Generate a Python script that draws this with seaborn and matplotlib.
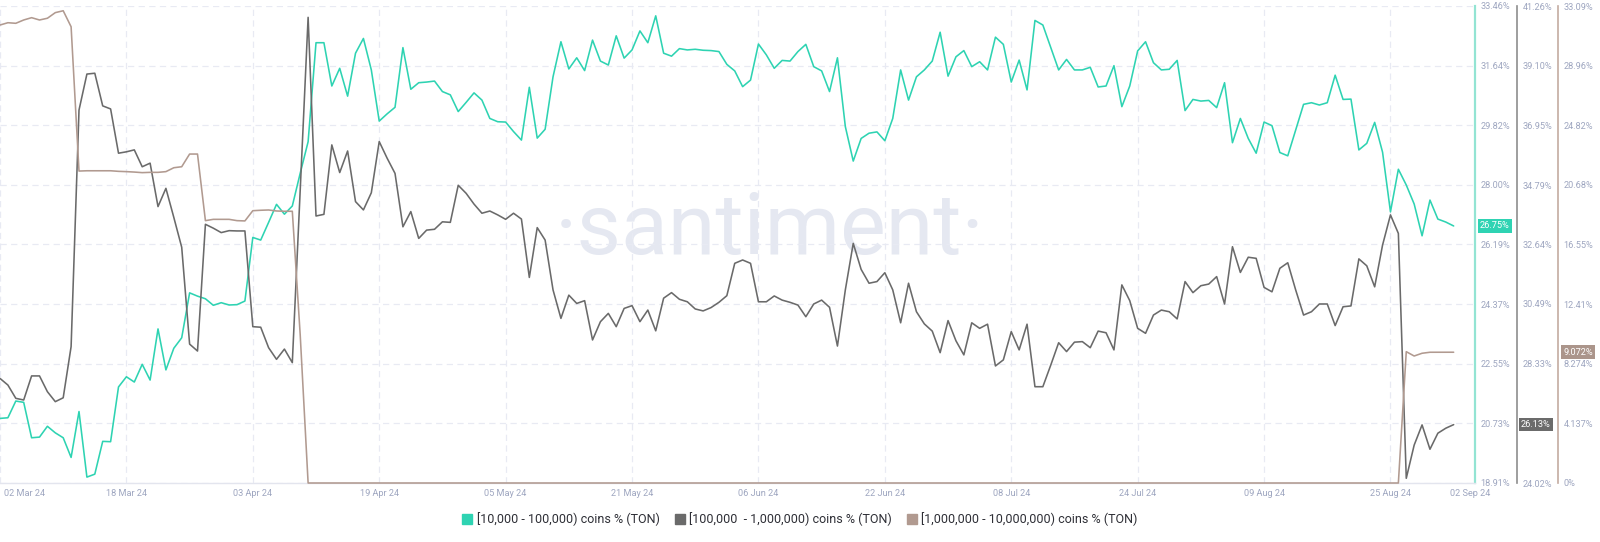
import numpy as np
import pandas as pd
import matplotlib
matplotlib.use("Agg")
import matplotlib.pyplot as plt
import matplotlib.transforms as mtransforms
from matplotlib.lines import Line2D
import seaborn as sns

# ---------------- data ----------------
start_date = "2024-03-02"

teal_values = [
    20.88, 20.90, 21.41, 21.37, 20.29, 20.31, 20.64, 20.44, 20.29, 19.69,
    21.09, 19.09, 19.18, 20.18, 20.17, 21.84, 22.15, 21.99, 22.53, 22.05,
    23.61, 22.36, 23.02, 23.34, 24.71, 24.61, 24.53, 24.33, 24.41, 24.34,
    24.35, 24.46, 26.40, 26.32, 26.86, 27.41, 27.11, 27.36, 28.36, 29.32,
    32.34, 32.34, 31.02, 31.56, 30.71, 32.02, 32.47, 31.51, 29.95, 30.17,
    30.37, 32.19, 30.92, 31.12, 31.14, 31.17, 30.85, 30.75, 30.24, 30.52,
    30.81, 30.59, 30.03, 29.93, 29.92, 29.63, 29.37, 30.98, 29.43, 29.70,
    31.30, 32.37, 31.54, 31.88, 31.49, 32.42, 31.78, 31.66, 32.55, 31.87,
    32.12, 32.70, 32.34, 33.16, 32.02, 31.93, 32.16, 32.12, 32.14, 32.11,
    32.10, 32.07, 31.68, 31.48, 31.00, 31.20, 32.30, 31.97, 31.56, 31.80,
    31.78, 32.07, 32.29, 31.61, 31.48, 30.85, 31.88, 29.78, 28.73, 29.42,
    29.58, 29.62, 29.35, 30.03, 31.51, 30.59, 31.30, 31.51, 31.78, 32.66,
    31.32, 31.91, 32.10, 31.61, 31.76, 31.51, 32.51, 32.29, 31.14, 31.81,
    30.90, 33.02, 32.88, 32.20, 31.51, 31.83, 31.51, 31.51, 31.59, 30.99,
    31.02, 31.64, 30.39, 31.02, 32.09, 32.37, 31.73, 31.51, 31.53, 31.80,
    30.27, 30.61, 30.56, 30.58, 30.36, 31.12, 29.29, 30.03, 29.42, 28.97,
    29.92, 29.81, 28.99, 28.89, 29.68, 30.46, 30.51, 30.44, 30.51, 31.35,
    30.61, 30.62, 29.07, 29.27, 29.91, 29.00, 27.18, 28.48, 28.00, 27.42,
    26.45, 27.54, 26.96, 26.87, 26.75,
]

gray_values = [
    27.80, 27.56, 27.08, 27.02, 27.89, 27.89, 27.32, 26.96, 27.10, 28.95,
    37.50, 38.80, 38.83, 37.65, 37.54, 35.94, 35.99, 36.06, 35.45, 35.58,
    34.01, 34.67, 33.62, 32.54, 29.04, 28.79, 33.37, 33.23, 33.07, 33.14,
    33.13, 33.13, 29.67, 29.65, 28.91, 28.49, 28.86, 28.37, 34.61, 40.85,
    33.67, 33.73, 36.24, 35.24, 36.02, 34.19, 33.89, 34.51, 36.36, 35.76,
    35.21, 33.28, 33.83, 32.86, 33.16, 33.19, 33.46, 33.44, 34.78, 34.49,
    34.10, 33.77, 33.85, 33.71, 33.55, 33.77, 33.56, 31.45, 33.25, 32.80,
    31.00, 29.97, 30.81, 30.51, 30.61, 29.19, 29.85, 30.15, 29.67, 30.33,
    30.43, 29.85, 30.27, 29.52, 30.70, 30.90, 30.66, 30.57, 30.31, 30.24,
    30.36, 30.55, 30.79, 31.96, 32.08, 31.96, 30.57, 30.57, 30.78, 30.63,
    30.55, 30.45, 30.03, 30.49, 30.63, 30.37, 28.97, 31.00, 32.68, 31.74,
    31.24, 31.30, 31.62, 31.00, 29.81, 31.24, 30.21, 29.77, 29.51, 28.73,
    29.89, 29.16, 28.65, 29.81, 29.61, 29.76, 28.25, 28.47, 29.49, 28.83,
    29.76, 27.50, 27.50, 28.28, 29.09, 28.77, 29.11, 29.13, 28.91, 29.51,
    29.45, 28.83, 31.18, 30.61, 29.61, 29.43, 30.09, 30.27, 30.21, 29.95,
    31.30, 30.90, 31.15, 31.21, 31.48, 30.49, 32.56, 31.63, 32.18, 32.14,
    31.09, 30.93, 31.78, 31.98, 31.00, 30.09, 30.21, 30.49, 30.49, 29.71,
    30.39, 30.42, 32.12, 31.87, 31.11, 32.62, 33.71, 33.04, 24.19, 25.39,
    26.12, 25.24, 25.82, 26.00, 26.13,
]

brown_values = [
    31.77, 31.93, 31.89, 32.12, 32.28, 32.12, 32.24, 32.63, 32.76, 31.65,
    21.64, 21.66, 21.66, 21.66, 21.66, 21.62, 21.60, 21.57, 21.53, 21.55,
    21.55, 21.60, 21.87, 21.94, 22.82, 22.82, 18.20, 18.29, 18.29, 18.29,
    18.20, 18.18, 18.89, 18.92, 18.94, 18.87, 18.85, 18.85, 10.27, 0.0,
    0.0, 0.0, 0.0, 0.0, 0.0, 0.0, 0.0, 0.0, 0.0, 0.0,
    0.0, 0.0, 0.0, 0.0, 0.0, 0.0, 0.0, 0.0, 0.0, 0.0,
    0.0, 0.0, 0.0, 0.0, 0.0, 0.0, 0.0, 0.0, 0.0, 0.0,
    0.0, 0.0, 0.0, 0.0, 0.0, 0.0, 0.0, 0.0, 0.0, 0.0,
    0.0, 0.0, 0.0, 0.0, 0.0, 0.0, 0.0, 0.0, 0.0, 0.0,
    0.0, 0.0, 0.0, 0.0, 0.0, 0.0, 0.0, 0.0, 0.0, 0.0,
    0.0, 0.0, 0.0, 0.0, 0.0, 0.0, 0.0, 0.0, 0.0, 0.0,
    0.0, 0.0, 0.0, 0.0, 0.0, 0.0, 0.0, 0.0, 0.0, 0.0,
    0.0, 0.0, 0.0, 0.0, 0.0, 0.0, 0.0, 0.0, 0.0, 0.0,
    0.0, 0.0, 0.0, 0.0, 0.0, 0.0, 0.0, 0.0, 0.0, 0.0,
    0.0, 0.0, 0.0, 0.0, 0.0, 0.0, 0.0, 0.0, 0.0, 0.0,
    0.0, 0.0, 0.0, 0.0, 0.0, 0.0, 0.0, 0.0, 0.0, 0.0,
    0.0, 0.0, 0.0, 0.0, 0.0, 0.0, 0.0, 0.0, 0.0, 0.0,
    0.0, 0.0, 0.0, 0.0, 0.0, 0.0, 0.0, 0.0, 9.11, 8.81,
    9.00, 9.07, 9.07, 9.07, 9.072,
]

series_names = [
    "[10,000 - 100,000) coins % (TON)",
    "[100,000  - 1,000,000) coins % (TON)",
    "[1,000,000 - 10,000,000) coins % (TON)",
]

teal_ticks = [18.91, 20.73, 22.55, 24.37, 26.19, 28.00, 29.82, 31.64, 33.46]
teal_tick_labels = ["18.91%", "20.73%", "22.55%", "24.37%", "26.19%",
                    "28.00%", "29.82%", "31.64%", "33.46%"]
gray_ticks = [24.02, 26.17, 28.33, 30.49, 32.64, 34.79, 36.95, 39.10, 41.26]
# the 26.17% label sits under the value badge in the reference
gray_tick_labels = ["24.02%", "", "28.33%", "30.49%", "32.64%",
                    "34.79%", "36.95%", "39.10%", "41.26%"]
brown_ticks = [0, 4.137, 8.274, 12.41, 16.55, 20.68, 24.82, 28.96, 33.09]
brown_tick_labels = ["0%", "4.137%", "8.274%", "12.41%", "16.55%",
                     "20.68%", "24.82%", "28.96%", "33.09%"]

x_tick_dates = ["2024-03-02", "2024-03-18", "2024-04-03", "2024-04-19",
                "2024-05-05", "2024-05-21", "2024-06-06", "2024-06-22",
                "2024-07-08", "2024-07-24", "2024-08-09", "2024-08-25"]
last_tick_date = "2024-09-02"

# ---------------- style ----------------
TEAL = "#2ed3b2"
GRAY = "#6a6a6a"
BROWN = "#b19a90"
TICK_COLOR = "#9ea6c0"
GRID_COLOR = "#e8eaf3"
DPI = 100
PT = 72 / DPI  # points per pixel

sns.set_theme(style="white")
plt.rcParams["font.family"] = ["Roboto", "DejaVu Sans"]

dates = pd.date_range(start_date, periods=len(teal_values), freq="D")
df = pd.DataFrame({"date": dates, "teal": teal_values,
                   "gray": gray_values, "brown": brown_values})

fig = plt.figure(figsize=(16, 5.42), dpi=DPI)
ax = fig.add_axes([0.0, 59 / 542, 1475 / 1600, 477 / 542])
ax2 = ax.twinx()
ax3 = ax.twinx()

sns.lineplot(data=df, x="date", y="teal", ax=ax, color=TEAL, lw=1.15)
sns.lineplot(data=df, x="date", y="gray", ax=ax2, color=GRAY, lw=1.15)
sns.lineplot(data=df, x="date", y="brown", ax=ax3, color=BROWN, lw=1.15)
for ln in ax3.get_lines():
    ln.set_clip_on(False)

x0 = pd.Timestamp(start_date)
ax.set_xlim(x0, pd.Timestamp(last_tick_date) + pd.Timedelta(days=2.7))
ax.set_ylim(teal_ticks[0], teal_ticks[-1])
ax2.set_ylim(gray_ticks[0], gray_ticks[-1])
ax3.set_ylim(brown_ticks[0], brown_ticks[-1])

for a in (ax, ax2, ax3):
    a.set_xlabel("")
    a.set_ylabel("")

# y ticks
ax.yaxis.tick_right()
ax.set_yticks(teal_ticks)
ax.set_yticklabels(teal_tick_labels)
ax2.set_yticks(gray_ticks)
ax2.set_yticklabels(gray_tick_labels)
ax3.set_yticks(brown_ticks)
ax3.set_yticklabels(brown_tick_labels)
for a in (ax, ax2, ax3):
    a.tick_params(axis="y", which="both", left=False, right=True,
                  labelleft=False, labelright=True, length=0, pad=4,
                  labelsize=6.6, labelcolor=TICK_COLOR)

# x ticks
major = [pd.Timestamp(d) for d in x_tick_dates]
ax.set_xticks(major)
ax.set_xticklabels([d.strftime("%d %b %y") for d in major])
ax.set_xticks([pd.Timestamp(last_tick_date)], minor=True)
ax.set_xticklabels([pd.Timestamp(last_tick_date).strftime("%d %b %y")], minor=True)
ax.tick_params(axis="x", which="both", length=0, pad=4, labelsize=6.6,
               labelcolor=TICK_COLOR)
ax2.tick_params(axis="x", which="both", bottom=False, labelbottom=False)
ax3.tick_params(axis="x", which="both", bottom=False, labelbottom=False)

lbls = ax.get_xticklabels()
lbls[0].set_horizontalalignment("left")
lbls[0].set_transform(lbls[0].get_transform() +
                      mtransforms.ScaledTranslation(4 / DPI, 0, fig.dpi_scale_trans))
mlbl = ax.get_xticklabels(minor=True)[0]
mlbl.set_transform(mlbl.get_transform() +
                   mtransforms.ScaledTranslation(16 / DPI, 0, fig.dpi_scale_trans))

# grid
ax.grid(True, which="major", axis="both", color=GRID_COLOR, lw=0.9,
        ls=(0, (5, 3.5)))
ax.grid(False, which="minor")
ax2.grid(False)
ax3.grid(False)
ax.set_axisbelow(True)

# spines
for a in (ax, ax2, ax3):
    for s in ("left", "top"):
        a.spines[s].set_visible(False)
ax.spines["bottom"].set_color("#e3e5ee")
ax.spines["bottom"].set_linewidth(1.0)
ax2.spines["bottom"].set_visible(False)
ax3.spines["bottom"].set_visible(False)
ax.spines["right"].set_color("#93e4d3")
ax.spines["right"].set_linewidth(1.6)
ax2.spines["right"].set_position(("outward", 42 * PT))
ax2.spines["right"].set_color("#8d8d8d")
ax2.spines["right"].set_linewidth(1.2)
ax3.spines["right"].set_position(("outward", 83 * PT))
ax3.spines["right"].set_color("#c3aba1")
ax3.spines["right"].set_linewidth(1.2)

# watermark
ax.text(0.522, 0.53, "·santiment·", transform=ax.transAxes, ha="center",
        va="center", fontsize=62, color="#e5e8f1", zorder=0)

# value badges
def badge(axis_, val, text, color, offset_px):
    trans = mtransforms.blended_transform_factory(ax.transAxes, axis_.transData)
    axis_.annotate(text, xy=(1, val), xycoords=trans, xytext=(offset_px, 0),
                   textcoords="offset pixels", ha="left", va="center",
                   fontsize=6.6, color="white", zorder=10,
                   annotation_clip=False,
                   bbox=dict(boxstyle="square,pad=0.25", fc=color, ec="none"))

badge(ax, teal_values[-1], f"{teal_values[-1]:.2f}%", "#2fd3b3", 5)
badge(ax2, gray_values[-1], f"{gray_values[-1]:.2f}%", "#6b6b6b", 46)
badge(ax3, brown_values[-1], f"{brown_values[-1]:.3f}%", "#ab958b", 88)

# legend
handles = [Line2D([], [], marker="s", ls="none", color=c, markersize=7)
           for c in (TEAL, GRAY, BROWN)]
fig.legend(handles, series_names, loc="lower center",
           bbox_to_anchor=(0.5, 0.008), ncol=3, frameon=False, fontsize=9,
           handlelength=0.8, handletextpad=0.35, columnspacing=1.2,
           labelcolor="#2e2f36")

fig.savefig("out.png", dpi=DPI)
